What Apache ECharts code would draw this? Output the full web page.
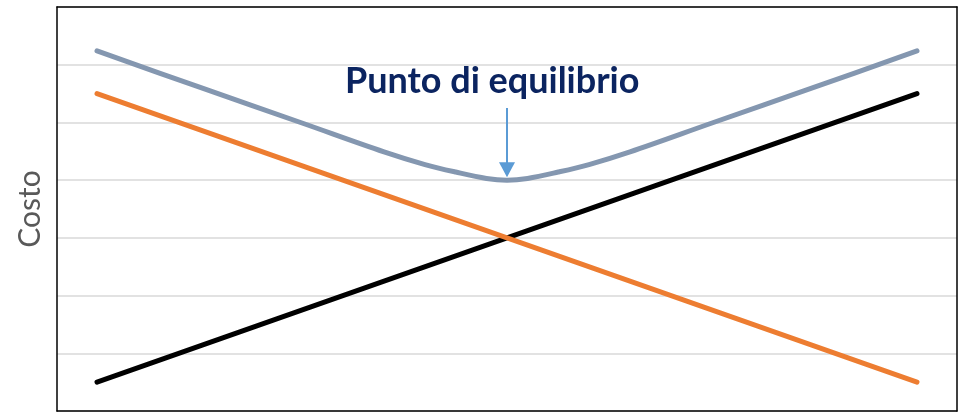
<!DOCTYPE html>
<html>
<head>
<meta charset="utf-8">
<script src="https://cdn.jsdelivr.net/npm/echarts@6/dist/echarts.min.js"></script>
<style>
  html, body { margin: 0; padding: 0; background: #fff; }
  #chart { width: 961px; height: 419px; }
</style>
</head>
<body>
<div id="chart"></div>
<script>
// Quantity positions along the horizontal axis
const lineX = [0, 20];
// Cost that falls as quantity grows (orange) and cost that rises (black)
const fallingCost = [5.5, 0.5];
const risingCost = [0.5, 5.5];
// Total cost curve (grey), lowest at the equilibrium point
const totalX = [0, 2.5, 5, 7, 8, 8.75, 9.5, 10, 10.5, 11.25, 12, 13, 15, 17.5, 20];
const totalCost = [6.24, 5.61, 4.99, 4.49, 4.27, 4.14, 4.03, 4.0, 4.03, 4.14, 4.27, 4.49, 4.99, 5.61, 6.24];
// Equilibrium marker: arrow from label down to the curve minimum
const eqX = 10;
const eqArrowFrom = 5.25;
const eqArrowTo = 4.18;
const eqLabel = 'Punto di equilibrio';
const yAxisName = 'Costo';

const pairs = (xs, ys) => xs.map((x, i) => [x, ys[i]]);

const chart = echarts.init(document.getElementById('chart'), null, { renderer: 'canvas' });

const frameLine = { show: true, onZero: false, lineStyle: { color: '#000', width: 1.5 } };
const hidden = { show: false };

chart.setOption({
  animation: false,
  grid: { left: 57, right: 4, top: 7, bottom: 8 },
  xAxis: [
    {
      type: 'value', position: 'bottom',
      min: -0.976, max: 20.976,
      axisLine: frameLine, axisTick: hidden, axisLabel: hidden, splitLine: hidden
    },
    {
      type: 'value', position: 'top',
      min: -0.976, max: 20.976,
      axisLine: frameLine, axisTick: hidden, axisLabel: hidden, splitLine: hidden
    }
  ],
  yAxis: [
    {
      type: 'value', position: 'left',
      min: 0, max: 7, interval: 1,
      name: yAxisName,
      nameLocation: 'middle',
      nameRotate: 90,
      nameGap: 12,
      nameTextStyle: { fontFamily: 'Lato', fontSize: 30, color: '#595959' },
      axisLine: frameLine, axisTick: hidden, axisLabel: hidden,
      splitLine: { show: true, lineStyle: { color: '#d9d9d9', width: 1.5 } }
    },
    {
      type: 'value', position: 'right',
      min: 0, max: 7, interval: 1,
      axisLine: frameLine, axisTick: hidden, axisLabel: hidden, splitLine: hidden
    }
  ],
  series: [
    {
      name: 'Costo totale',
      type: 'line',
      data: pairs(totalX, totalCost),
      smooth: 0.35,
      showSymbol: false,
      lineStyle: { color: '#8497B0', width: 5, cap: 'round', join: 'round' },
      z: 2,
      markLine: {
        silent: true,
        symbol: ['none', 'triangle'],
        symbolSize: [16, 15],
        label: { show: false },
        lineStyle: { color: '#5B9BD5', width: 2, type: 'solid' },
        data: [[{ coord: [eqX, eqArrowFrom] }, { coord: [eqX, eqArrowTo] }]]
      }
    },
    {
      name: 'Costo crescente',
      type: 'line',
      data: pairs(lineX, risingCost),
      showSymbol: false,
      lineStyle: { color: '#000000', width: 5, cap: 'round' },
      z: 3
    },
    {
      name: 'Costo decrescente',
      type: 'line',
      data: pairs(lineX, fallingCost),
      showSymbol: false,
      lineStyle: { color: '#ED7D31', width: 5, cap: 'round' },
      z: 4
    }
  ],
  graphic: [
    {
      type: 'text',
      left: 345,
      top: 63,
      style: {
        text: eqLabel,
        font: 'bold 36px Lato',
        fill: '#0B2460'
      }
    }
  ]
});
</script>
</body>
</html>
